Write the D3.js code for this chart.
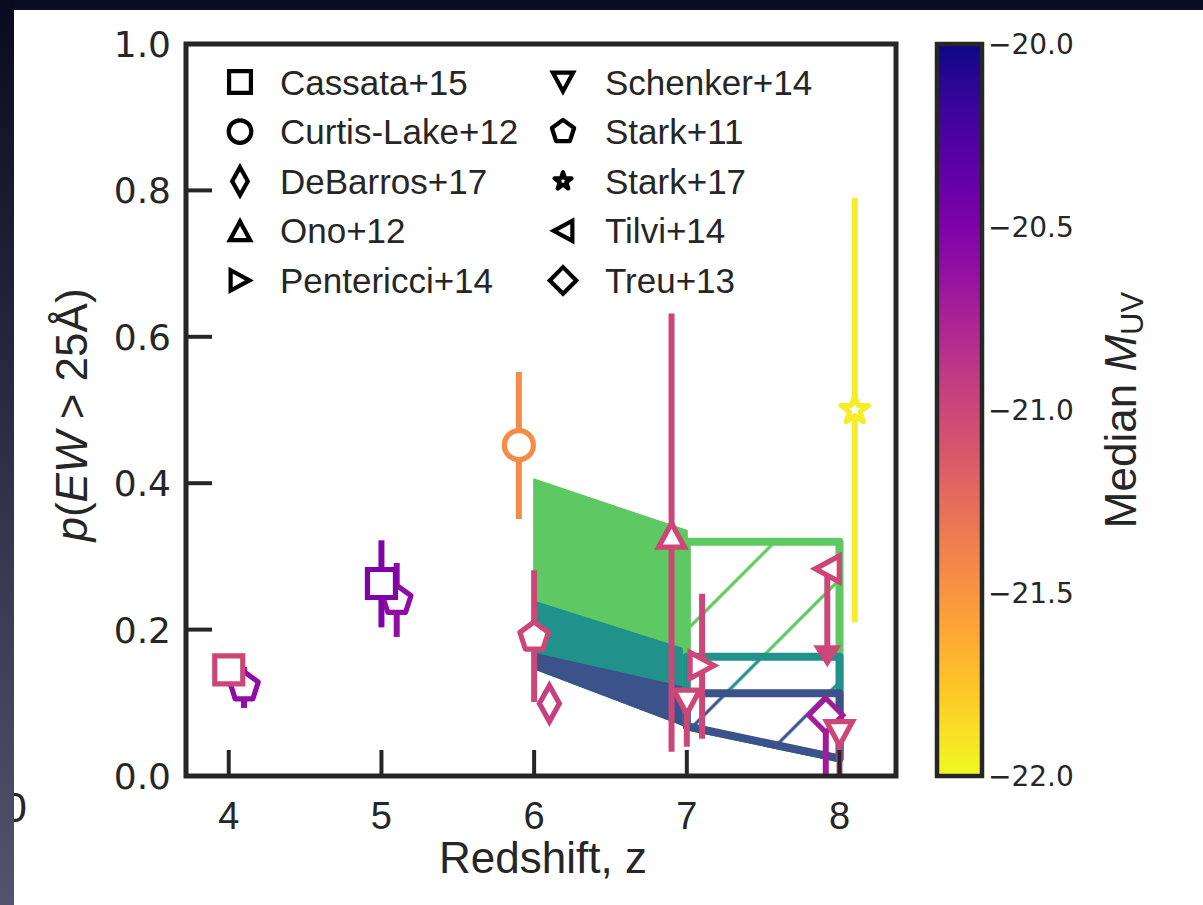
<!DOCTYPE html>
<html><head><meta charset="utf-8">
<script src="https://cdn.jsdelivr.net/npm/d3@7"></script>
<style>
html,body{margin:0;padding:0;background:#0b0b22;}
svg{display:block;}
</style></head><body>
<svg id="fig" width="1203" height="905"></svg>
<script>
// ---- reference samples (legend order) ----
const sourceNames   = ["Cassata+15","Curtis-Lake+12","DeBarros+17","Ono+12","Pentericci+14",
                       "Schenker+14","Stark+11","Stark+17","Tilvi+14","Treu+13"];
const sourceMarkers = ["s","o","d","^",">","v","p","*","<","D"];

// ---- measurements, in drawing order ----
const pointSource = ["Stark+11","Stark+11","Stark+11","Cassata+15","Cassata+15","Curtis-Lake+12",
                     "DeBarros+17","Ono+12","Pentericci+14","Schenker+14","Tilvi+14","Treu+13",
                     "Schenker+14","Stark+17"];
const pointZ   = [4.1, 5.1, 6.0, 4.0, 5.0, 5.9, 6.1, 6.9, 7.1, 7.0, 7.92, 7.91, 8.0, 8.1];
const pointP   = [0.122, 0.240, 0.190, 0.145, 0.263, 0.452, 0.099, 0.329, 0.151, 0.101, 0.283, 0.083, 0.058, 0.500];
const pointLo  = [0.093, 0.190, 0.101, 0.145, 0.203, 0.351, 0.099, 0.033, 0.051, 0.040, 0.165, -0.05, -0.05, 0.210];
const pointHi  = [0.149, 0.291, 0.281, 0.145, 0.322, 0.552, 0.099, 0.632, 0.249, 0.115, 0.283, 0.083, 0.058, 0.790];
const pointMuv = [-20.6, -20.6, -21.0, -21.0, -20.5, -21.45, -20.95, -21.0, -21.0, -21.0, -21.0, -20.7, -21.0, -21.95];
const pointUpperLimit = [false,false,false,false,false,false,false,false,false,false,true,false,false,false];

// ---- model predictions ----
const modelLevels = [0.75, 0.5, 0.25];            // viridis positions: green, teal, blue
const bandZ       = [6.0, 7.0];
const bandTop     = [[0.405, 0.335], [0.238, 0.172], [0.167, 0.120]];
const bandBottom  = [0.147, 0.068];
const boxZ        = [7.0, 8.0];
const boxTop      = [[0.32, 0.32], [0.163, 0.163], [0.113, 0.113]];
const boxBottom   = [0.068, 0.024];

// ---- ticks ----
const xTicks  = [4, 5, 6, 7, 8];
const yTicks  = [0.0, 0.2, 0.4, 0.6, 0.8, 1.0];
const cbTicks = [-20.0, -20.5, -21.0, -21.5, -22.0];

const W = 1203, H = 905;
const ink = "#262626";
const svg = d3.select("#fig");
const defs = svg.append("defs");

const plot = {left: 186, right: 896, top: 44, bottom: 776};
const x = d3.scaleLinear().domain([3.72, 8.37]).range([plot.left, plot.right]);
const y = d3.scaleLinear().domain([0, 1]).range([plot.bottom, plot.top]);
const muvColor = d3.scaleSequential(d3.interpolatePlasma).domain([-20, -22]);

// ---- page background ----
const edge = defs.append("linearGradient").attr("id", "edgeShade")
  .attr("x1", 0).attr("y1", 0).attr("x2", 0).attr("y2", 1);
edge.append("stop").attr("offset", "0%").attr("stop-color", "#0a0a1f");
edge.append("stop").attr("offset", "100%").attr("stop-color", "#55526f");
svg.append("rect").attr("width", W).attr("height", H).attr("fill", "#0b0b22");
svg.append("rect").attr("x", 14).attr("y", 10).attr("width", W - 14).attr("height", H - 10).attr("fill", "#fff");
svg.append("text").attr("x", 27).attr("y", 822).attr("text-anchor", "end")
  .attr("font-family", "Liberation Sans, Arial, sans-serif").attr("font-size", 43)
  .attr("fill", ink).text("0");
svg.append("rect").attr("x", 0).attr("y", 0).attr("width", 14).attr("height", H).attr("fill", "url(#edgeShade)");

// ---- clip to axes ----
defs.append("clipPath").attr("id", "axclip").append("rect")
  .attr("x", plot.left).attr("y", plot.top)
  .attr("width", plot.right - plot.left).attr("height", plot.bottom - plot.top);

// ---- hatch patterns ----
function hatch(id, color) {
  const w = 102.5;
  const p = defs.append("pattern").attr("id", id).attr("patternUnits", "userSpaceOnUse")
    .attr("x", 86.7).attr("y", 0).attr("width", w).attr("height", w);
  p.append("path")
    .attr("d", `M0,${w}L${w},0M${-w/4},${w/4}L${w/4},${-w/4}M${w*3/4},${w*5/4}L${w*5/4},${w*3/4}`)
    .attr("stroke", color).attr("stroke-width", 3.2).attr("fill", "none");
}

const gModel = svg.append("g").attr("clip-path", "url(#axclip)");
const area = d3.area().x(d => x(d.z)).y0(d => y(d.lo)).y1(d => y(d.hi));

modelLevels.forEach((lv, k) => {
  const c = d3.interpolateViridis(lv);
  const pts = bandZ.map((z, i) => ({z, lo: bandBottom[i], hi: bandTop[k][i]}));
  gModel.append("path").attr("d", area(pts)).attr("fill", c)
    .attr("stroke", c).attr("stroke-width", 2).attr("stroke-linejoin", "round");
});
modelLevels.forEach((lv, k) => {
  const c = d3.interpolateViridis(lv);
  hatch("hatch" + k, c);
  const pts = boxZ.map((z, i) => ({z, lo: boxBottom[i], hi: boxTop[k][i]}));
  gModel.append("path").attr("d", area(pts)).attr("fill", "#fff");
  gModel.append("path").attr("d", area(pts)).attr("fill", `url(#hatch${k})`)
    .attr("stroke", c).attr("stroke-width", 8).attr("stroke-linejoin", "round");
});

// ---- marker shapes ----
function poly(pts) { return "M" + pts.map(p => p[0].toFixed(2) + "," + p[1].toFixed(2)).join("L") + "Z"; }
function markerPath(m, s) {
  switch (m) {
    case "s": return poly([[-14*s,-14*s],[14*s,-14*s],[14*s,14*s],[-14*s,14*s]]);
    case "o": { const r = 14.5*s; return `M${r},0A${r},${r} 0 1,1 ${-r},0A${r},${r} 0 1,1 ${r},0Z`; }
    case "d": return poly([[0,-18*s],[10*s,0],[0,18*s],[-10*s,0]]);
    case "D": return poly([[0,-17*s],[17*s,0],[0,17*s],[-17*s,0]]);
    case "^": return poly([[0,-12*s],[13*s,12*s],[-13*s,12*s]]);
    case "v": return poly([[0,12*s],[13*s,-12*s],[-13*s,-12*s]]);
    case "<": return poly([[-12*s,0],[12*s,-13*s],[12*s,13*s]]);
    case ">": return poly([[12*s,0],[-12*s,-13*s],[-12*s,13*s]]);
    case "p": return poly(d3.range(5).map(k => { const a = -Math.PI/2 + k*2*Math.PI/5; return [15*s*Math.cos(a), 15*s*Math.sin(a)]; }));
    case "*": return poly(d3.range(10).map(k => { const a = -Math.PI/2 + k*Math.PI/5; const r = (k % 2 ? 5.6 : 14.5)*s; return [r*Math.cos(a), r*Math.sin(a)]; }));
  }
}
const joinFor = m => (m === "*" || m === "p" || m === "o") ? "round" : "miter";

// ---- measurements ----
const gData = svg.append("g").attr("clip-path", "url(#axclip)");
pointSource.forEach((src, i) => {
  const m = sourceMarkers[sourceNames.indexOf(src)];
  const c = muvColor(pointMuv[i]);
  const cx = x(pointZ[i]);
  if (pointHi[i] > pointLo[i]) {
    gData.append("line").attr("x1", cx).attr("x2", cx)
      .attr("y1", y(pointLo[i])).attr("y2", y(pointHi[i]))
      .attr("stroke", c).attr("stroke-width", 6);
  }
  if (pointUpperLimit[i]) {
    gData.append("path").attr("transform", `translate(${cx},${y(pointLo[i])})`)
      .attr("d", poly([[-14,-10],[14,-10],[0,12]])).attr("fill", c);
  }
  gData.append("path").attr("transform", `translate(${cx},${y(pointP[i])})`)
    .attr("d", markerPath(m, 1)).attr("fill", "#fff").attr("stroke", c)
    .attr("stroke-width", 5.2).attr("stroke-linejoin", joinFor(m)).attr("stroke-miterlimit", 6);
});

// ---- axes frame and ticks ----
const gAxes = svg.append("g");
xTicks.forEach(t => {
  gAxes.append("line").attr("x1", x(t)).attr("x2", x(t)).attr("y1", plot.bottom).attr("y2", plot.bottom - 26)
    .attr("stroke", ink).attr("stroke-width", 4);
  gAxes.append("text").attr("x", x(t)).attr("y", 829).attr("text-anchor", "middle")
    .attr("font-family", "Liberation Sans, Arial, sans-serif").attr("font-size", 38)
    .attr("fill", ink).text(d3.format("d")(t));
});
yTicks.forEach(t => {
  gAxes.append("line").attr("x1", plot.left).attr("x2", plot.left + 26).attr("y1", y(t)).attr("y2", y(t))
    .attr("stroke", ink).attr("stroke-width", 4);
  gAxes.append("text").attr("x", 171).attr("y", y(t)).attr("dy", "0.36em").attr("text-anchor", "end")
    .attr("font-family", "DejaVu Sans, sans-serif").attr("font-size", 36)
    .attr("fill", ink).text(d3.format(".1f")(t));
});
gAxes.append("rect").attr("x", plot.left).attr("y", plot.top)
  .attr("width", plot.right - plot.left).attr("height", plot.bottom - plot.top)
  .attr("fill", "none").attr("stroke", ink).attr("stroke-width", 5);

// axis titles
svg.append("text").attr("x", 543).attr("y", 873).attr("text-anchor", "middle")
  .attr("font-family", "Liberation Sans, Arial, sans-serif").attr("font-size", 44)
  .attr("fill", ink).text("Redshift, z");
const yl = svg.append("text").attr("transform", "translate(87,415) rotate(-90)")
  .attr("text-anchor", "middle").attr("font-family", "Liberation Sans, Arial, sans-serif")
  .attr("font-size", 44).attr("fill", ink);
yl.append("tspan").attr("font-style", "italic").text("p");
yl.append("tspan").text("(");
yl.append("tspan").attr("font-style", "italic").text("EW");
yl.append("tspan").text(" > 25Å)");

// ---- legend ----
const gLeg = svg.append("g");
sourceNames.forEach((name, i) => {
  const col = Math.floor(i / 5), row = i % 5;
  const mx = [240, 563][col], tx = [280, 605][col], cy = 82 + row * 49.6;
  const m = sourceMarkers[i];
  const s = m === "*" ? 0.62 : 0.78;
  gLeg.append("path").attr("transform", `translate(${mx},${cy})`)
    .attr("d", markerPath(m, s)).attr("fill", "#fff").attr("stroke", "#000")
    .attr("stroke-width", 4.2).attr("stroke-linejoin", joinFor(m)).attr("stroke-miterlimit", 6);
  gLeg.append("text").attr("x", tx).attr("y", cy + 12.5)
    .attr("font-family", "Liberation Sans, Arial, sans-serif").attr("font-size", 35)
    .attr("fill", ink).text(name);
});

// ---- colorbar ----
const cb = {left: 937, right: 982, top: 44, bottom: 776};
const cy = d3.scaleLinear().domain([-20, -22]).range([cb.top, cb.bottom]);
const grad = defs.append("linearGradient").attr("id", "muvGrad")
  .attr("x1", 0).attr("y1", 0).attr("x2", 0).attr("y2", 1);
d3.range(0, 1.0001, 0.05).forEach(t => {
  grad.append("stop").attr("offset", (t * 100) + "%").attr("stop-color", muvColor(-20 - 2 * t));
});
svg.append("rect").attr("x", cb.left).attr("y", cb.top).attr("width", cb.right - cb.left)
  .attr("height", cb.bottom - cb.top).attr("fill", "url(#muvGrad)")
  .attr("stroke", ink).attr("stroke-width", 4.5);
cbTicks.forEach(t => {
  svg.append("text").attr("x", 988).attr("y", cy(t)).attr("dy", "0.36em")
    .attr("font-family", "DejaVu Sans, sans-serif").attr("font-size", 28)
    .attr("fill", ink).text(d3.format(".1f")(t));
});
const cl = svg.append("text").attr("transform", "translate(1136,410) rotate(-90)")
  .attr("text-anchor", "middle").attr("font-family", "Liberation Sans, Arial, sans-serif")
  .attr("font-size", 44).attr("fill", ink);
cl.append("tspan").text("Median ");
cl.append("tspan").attr("font-style", "italic").text("M");
cl.append("tspan").attr("font-size", 31).attr("dy", 7).text("UV");
</script></body></html>
